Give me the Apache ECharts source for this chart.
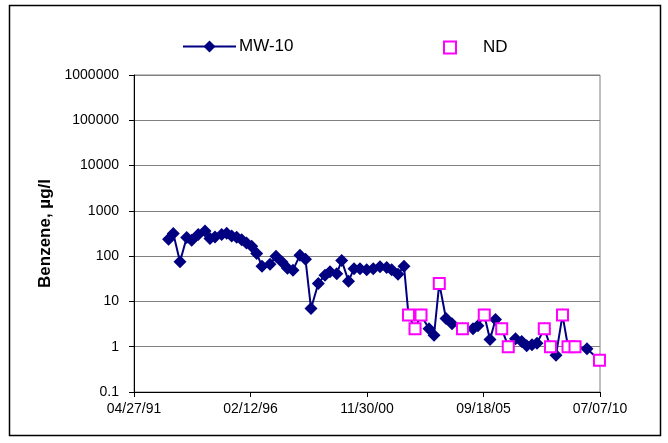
<!DOCTYPE html>
<html>
<head>
<meta charset="utf-8">
<script src="https://cdn.jsdelivr.net/npm/echarts@6/dist/echarts.min.js"></script>
<style>
  html, body { margin: 0; padding: 0; background: #fff; }
  #chart { width: 668px; height: 443px; }
</style>
</head>
<body>
<div id="chart"></div>
<script>
// Benzene concentrations in monitoring well MW-10 (µg/l)
const sampleDates = [
  '1992-09-28', '1992-12-08', '1993-03-19', '1993-06-28', '1993-09-11', '1993-12-19',
  '1994-03-30', '1994-06-13', '1994-08-28', '1994-12-06', '1995-02-20', '1995-05-06',
  '1995-07-20', '1995-10-03', '1995-12-15', '1996-03-02', '1996-05-16', '1996-08-04',
  '1996-12-02', '1997-03-02', '1997-06-01', '1997-08-22', '1997-11-13', '1998-02-26',
  '1998-05-20', '1998-08-11', '1998-11-29', '1999-03-10', '1999-05-24', '1999-09-02',
  '1999-11-16', '2000-02-26', '2000-05-19', '2000-08-17', '2000-11-26', '2001-03-05',
  '2001-06-14', '2001-09-23', '2001-12-07', '2002-03-12', '2002-06-10', '2002-08-17',
  '2002-11-23', '2003-02-21', '2003-06-21', '2003-09-05', '2003-11-23', '2004-03-03',
  '2004-06-01', '2004-11-06', '2005-04-13', '2005-06-27', '2005-09-30', '2005-12-25',
  '2006-03-18', '2006-06-19', '2006-09-26', '2007-01-13', '2007-04-16', '2007-06-30',
  '2007-09-18', '2007-12-02', '2008-03-21', '2008-06-22', '2008-09-13', '2008-12-20',
  '2009-03-13', '2009-06-26', '2009-12-23', '2010-06-29'
];
const mw10Values = [
  236, 315, 75, 257, 225, 300,
  360, 245, 265, 300, 320, 280,
  260, 230, 195, 165, 114, 60,
  66, 100, 74, 54, 49, 105,
  85, 7, 25, 38, 45, 41,
  80, 28, 53, 53, 50, 53,
  58, 56, 50, 40, 60, 5,
  2.5, 5, 2.5, 1.8, 25, 4.2,
  3.2, 2.5, 2.5, 2.9, 5, 1.45,
  4, 2.5, 1, 1.5, 1.3, 1.05,
  1.1, 1.2, 2.5, 1, 0.65, 5,
  1, 1, 0.9, 0.5
];

// Non-detect results (plotted at the reported value)
const ndDates = [
  '2002-08-17', '2002-11-23', '2003-02-21', '2003-11-23', '2004-11-06', '2005-09-30',
  '2006-06-19', '2006-09-26', '2008-03-21', '2008-06-22', '2008-12-20', '2009-03-13',
  '2009-06-26', '2010-06-29'
];
const ndValues = [5, 2.5, 5, 25, 2.5, 5, 2.5, 1, 2.5, 1, 5, 1, 1, 0.5];

const xTickLabels = ['04/27/91', '02/12/96', '11/30/00', '09/18/05', '07/07/10'];
const yTickLabels = ['0.1', '1', '10', '100', '1000', '10000', '100000', '1000000'];

const axisStart = '1991-04-27';
const axisEnd = '2010-07-07';
const DAY_MS = 86400000;
const dayOffset = d => (Date.parse(d) - Date.parse(axisStart)) / DAY_MS;
const spanDays = dayOffset(axisEnd);

const FONT = 'Arial, "Liberation Sans", sans-serif';
const NAVY = '#000080';
const MAGENTA = '#FF00FF';

const chart = echarts.init(document.getElementById('chart'), null, { renderer: 'canvas' });

chart.setOption({
  animation: false,
  backgroundColor: '#fff',
  textStyle: { fontFamily: FONT },
  graphic: [{
    type: 'rect',
    shape: { x: 9.5, y: 5.5, width: 651, height: 430 },
    style: { fill: 'none', stroke: '#000', lineWidth: 1.5 },
    z: 0
  }],
  legend: [
    {
      data: ['MW-10'],
      left: 182, top: 38, padding: 0,
      itemWidth: 53, itemHeight: 15, itemGap: 0,
      textStyle: { fontSize: 17, color: '#000', fontFamily: FONT, padding: [0, 0, 0, -2] }
    },
    {
      data: ['ND'],
      left: 443, top: 39, padding: 0,
      itemWidth: 12, itemHeight: 12,
      textStyle: { fontSize: 17, color: '#000', fontFamily: FONT, padding: [0, 0, 0, 22] }
    }
  ],
  grid: {
    left: 134, right: 68, top: 75, bottom: 51,
    show: true, borderColor: '#808080', borderWidth: 1, containLabel: false
  },
  xAxis: {
    type: 'value',
    min: 0,
    max: spanDays,
    interval: spanDays / 4,
    axisLine: { show: true, lineStyle: { color: '#000', width: 1 } },
    axisTick: { show: true, length: 5, lineStyle: { color: '#000' } },
    splitLine: { show: false },
    axisLabel: {
      margin: 10,
      fontSize: 14,
      color: '#000',
      fontFamily: FONT,
      formatter: (v, i) => xTickLabels[i] ?? ''
    }
  },
  yAxis: {
    type: 'log',
    logBase: 10,
    min: 0.1,
    max: 1000000,
    name: 'Benzene, µg/l',
    nameLocation: 'middle',
    nameRotate: 90,
    nameGap: 80,
    nameTextStyle: { fontSize: 17, fontWeight: 'bold', color: '#000', fontFamily: FONT },
    axisLine: { show: true, lineStyle: { color: '#000', width: 1 } },
    axisTick: { show: true, length: 5, inside: false, lineStyle: { color: '#000' } },
    splitLine: { show: true, lineStyle: { color: '#808080', width: 1 } },
    axisLabel: {
      margin: 15,
      fontSize: 14,
      color: '#000',
      fontFamily: FONT,
      formatter: v => yTickLabels[Math.round(Math.log10(v)) + 1] ?? ''
    }
  },
  series: [
    {
      name: 'MW-10',
      type: 'line',
      data: sampleDates.map((d, i) => [dayOffset(d), mw10Values[i]]),
      symbol: 'diamond',
      symbolSize: 13,
      showAllSymbol: true,
      lineStyle: { color: NAVY, width: 2 },
      itemStyle: { color: NAVY },
      z: 2
    },
    {
      name: 'ND',
      type: 'scatter',
      data: ndDates.map((d, i) => [dayOffset(d), ndValues[i]]),
      symbol: 'rect',
      symbolSize: 11,
      itemStyle: { color: '#fff', borderColor: MAGENTA, borderWidth: 2, opacity: 1 },
      z: 3
    }
  ]
});
</script>
</body>
</html>
